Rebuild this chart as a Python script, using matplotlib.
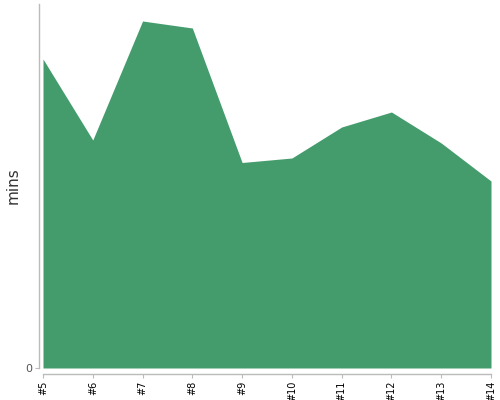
import matplotlib
matplotlib.use("Agg")
import matplotlib.pyplot as plt

categories = ["#5", "#6", "#7", "#8", "#9", "#10", "#11", "#12", "#13", "#14"]
mins = [30.9, 22.8, 34.7, 34.0, 20.55, 21.0, 24.1, 25.6, 22.5, 18.7]
y_max = 36.4

fig = plt.figure(figsize=(5, 4), dpi=100)
ax = fig.add_axes([43 / 500, (400 - 368) / 400, (491 - 43) / 500, (368 - 4) / 400])

x = list(range(len(categories)))
ax.fill_between(x, 0, mins, color="#449c6d", linewidth=0)

ax.set_xlim(0, len(categories) - 1)
ax.set_ylim(0, y_max)

for s in ["top", "right"]:
    ax.spines[s].set_visible(False)
ax.spines["left"].set_position(("outward", 3))
ax.spines["bottom"].set_position(("outward", 4))
for s in ["left", "bottom"]:
    ax.spines[s].set_color("#bbbbbb")
    ax.spines[s].set_linewidth(1)

ax.set_xticks(x)
ax.set_xticklabels(categories, rotation=90, fontsize=7, color="#000000")
ax.set_yticks([0])
ax.set_yticklabels(["0"], fontsize=8, color="#555555")
ax.tick_params(axis="x", length=3, color="#bbbbbb", pad=2)
ax.tick_params(axis="y", length=3, color="#bbbbbb", pad=2)

ax.set_ylabel("mins", fontsize=11, color="#333333", va="center")
ax.yaxis.set_label_coords((13 - 43) / 448, 0.5)

fig.savefig("out.png", dpi=100)
